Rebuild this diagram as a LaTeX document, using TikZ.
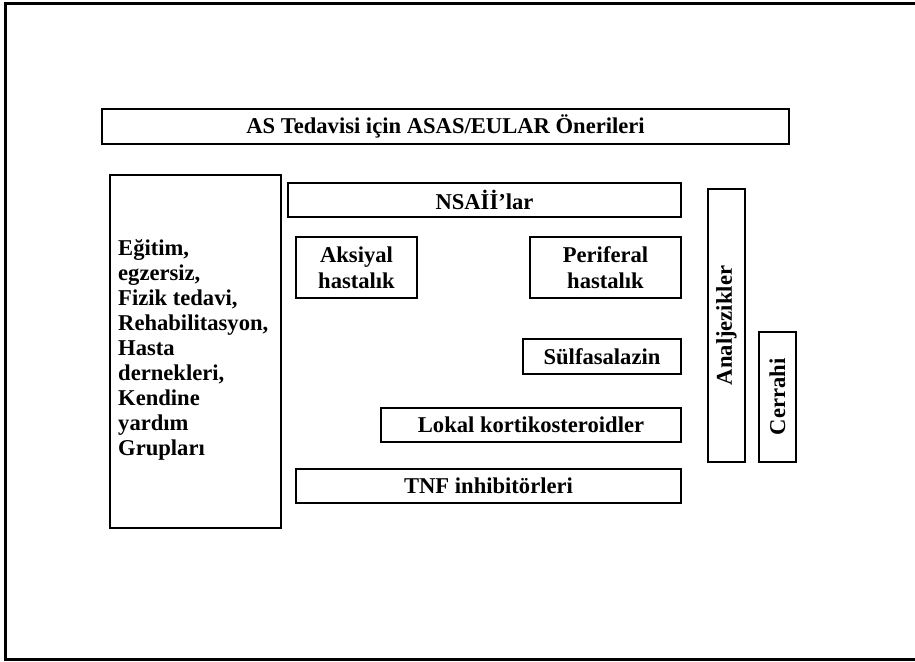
\documentclass[tikz,border=0pt]{standalone}
\usepackage{fontspec}
\setmainfont{Liberation Serif}
\begin{document}
\begin{tikzpicture}[x=1pt,y=1pt,
  box/.style={draw=black,line width=1.3pt,inner sep=0pt,align=center,
    font=\fontsize{22.6}{25.8}\selectfont\bfseries},
  txt/.style={inner sep=0pt,align=left,font=\fontsize{22.6}{25}\selectfont\bfseries}]
\useasboundingbox (0,0) rectangle (915,-661);
\fill[white] (0,0) rectangle (915,-661);
\draw[line width=2.2pt] (920,-3.5) -- (5.5,-3.5) -- (5.5,-659.5) -- (920,-659.5);
\node[box,minimum width=687,minimum height=35] (title) at (445.5,-126.5) {AS Tedavisi için ASAS/EULAR Önerileri};
\node[box,minimum width=171,minimum height=353] (left) at (195.5,-351.5) {};
\node[txt,anchor=north west] (lefttext) at (118,-239.5) {Eğitim,\\egzersiz,\\Fizik tedavi,\\Rehabilitasyon,\\Hasta\\dernekleri,\\Kendine\\yardım\\Grupları};
\node[box,minimum width=393,minimum height=34] (nsaid) at (484.5,-200) {NSAİİ’lar};
\node[box,minimum width=121,minimum height=61] (aks) at (356.5,-267.5) {Aksiyal\\hastalık};
\node[box,minimum width=151,minimum height=61] (per) at (605.5,-267.5) {Periferal\\hastalık};
\node[box,minimum width=158,minimum height=35] (sulf) at (602,-356.5) {Sülfasalazin};
\node[box,minimum width=300,minimum height=34] (lokal) at (531,-425) {Lokal kortikosteroidler};
\node[box,minimum width=385,minimum height=34] (tnf) at (488.5,-486) {TNF inhibitörleri};
\node[box,minimum width=273,minimum height=37,rotate=90] (analj) at (726.5,-325.5) {Analjezikler};
\node[box,minimum width=130,minimum height=37,rotate=90] (cerr) at (777.5,-397) {Cerrahi};
\end{tikzpicture}
\end{document}
